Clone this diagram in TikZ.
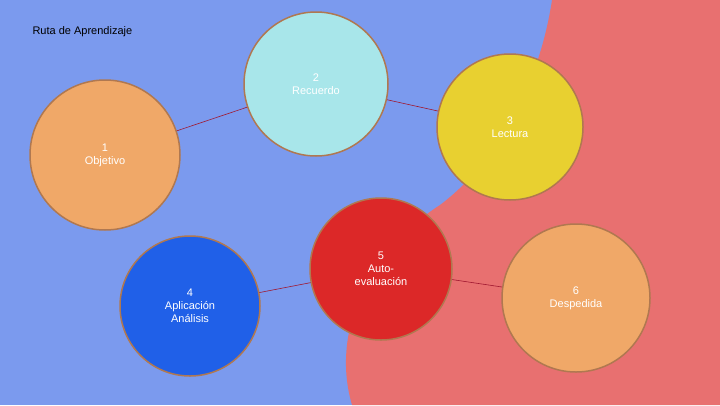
\documentclass[tikz,border=0pt]{standalone}
\usepackage{fontspec}
\setmainfont{Liberation Sans}
\definecolor{bgblue}{HTML}{7B9AEE}
\definecolor{bgred}{HTML}{E87070}
\definecolor{rim}{HTML}{B07850}
\definecolor{orangec}{HTML}{F0A868}
\definecolor{cyanc}{HTML}{A8E6EA}
\definecolor{yellowc}{HTML}{E8D030}
\definecolor{bluec}{HTML}{2060E8}
\definecolor{redc}{HTML}{DC2828}
\definecolor{link}{HTML}{A01830}
\tikzset{
  stage/.style={circle, draw=rim, line width=1.5pt, minimum size=#1, align=center, text=white, font=\fontsize{11}{13}\selectfont},
  linkline/.style={draw=link, line width=0.6pt}
}
\begin{document}
\begin{tikzpicture}[x=1pt, y=-1pt]
    % background
    \fill[bgblue] (0,0) rectangle (720,405);
    \fill[bgred] (552,0) .. controls (540,80) and (500,160) .. (440,205) .. controls (370,250) and (330,330) .. (352,405) -- (720,405) -- (720,0) -- cycle;
    \useasboundingbox (0,0) rectangle (720,405);
    \node[anchor=west, font=\fontsize{11}{13}\selectfont] (title) at (29,32) {Ruta de Aprendizaje};
    % stages
    \node[stage=150pt, fill=orangec] (s1) at (105,155) {1\\Objetivo};
    \node[stage=144pt, fill=cyanc] (s2) at (316,84) {2\\Recuerdo};
    \node[stage=146pt, fill=yellowc] (s3) at (510,127) {3\\Lectura};
    \node[stage=140pt, fill=bluec] (s4) at (190,306) {4\\Aplicación\\Análisis};
    \node[stage=142pt, fill=redc] (s5) at (381,269) {5\\Auto-\\evaluación};
    \node[stage=148pt, fill=orangec] (s6) at (576,298) {6\\Despedida};
    % links
    \draw[linkline] (s1) -- (s2);
    \draw[linkline] (s2) -- (s3);
    \draw[linkline] (s4) -- (s5);
    \draw[linkline] (s5) -- (s6);
\end{tikzpicture}
\end{document}
